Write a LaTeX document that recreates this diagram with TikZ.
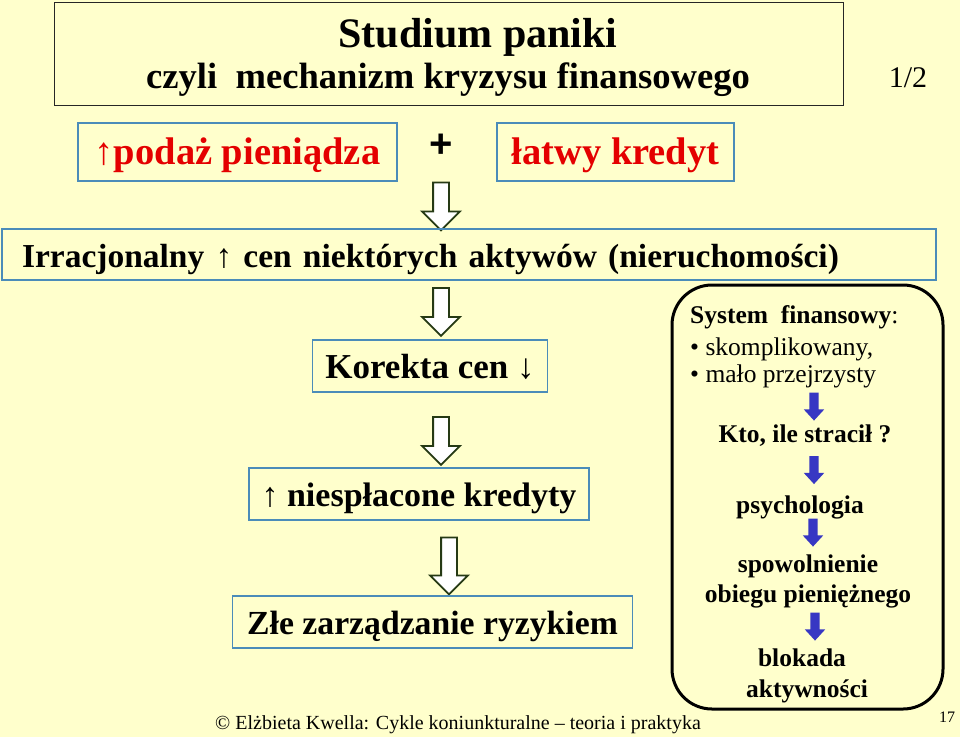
\documentclass[tikz,border=0pt]{standalone}
\usepackage{fontspec}
\setmainfont{Liberation Serif}
\newfontfamily\plusfont{Liberation Sans}
\usetikzlibrary{shapes.arrows}
\definecolor{bg}{RGB}{255,255,204}
\definecolor{boxline}{RGB}{75,140,185}
\definecolor{arrline}{RGB}{38,58,20}
\definecolor{bluearr}{RGB}{55,55,195}
\definecolor{redtxt}{RGB}{228,0,0}
\newcommand{\myfs}[1]{\fontsize{#1}{#1}\selectfont}
\begin{document}
\begin{tikzpicture}[x=1pt,y=-1pt,
  box/.style={draw=boxline, line width=1.1pt, inner sep=0pt, align=center,
    text height=25pt, text depth=0pt},
  hollow/.style={single arrow, draw=arrline, fill=white, line width=1.8pt,
    rotate=-90, minimum height=48pt, minimum width=36pt, inner sep=7pt,
    single arrow head extend=11pt, single arrow tip angle=90,
    single arrow head indent=0pt},
  bluearrow/.style={single arrow, fill=bluearr, draw=none,
    rotate=-90, minimum height=28pt, minimum width=20pt, inner sep=4.5pt,
    single arrow head extend=5.5pt, single arrow tip angle=85,
    single arrow head indent=0pt},
  rtxt/.style={font=\myfs{25.5}\bfseries, anchor=base, inner sep=0pt}]
\fill[bg] (0,0) rectangle (960,737);
\useasboundingbox (0,0) rectangle (960,737);

% title
\node[draw=black!85, line width=1pt, minimum width=789pt, minimum height=103pt, inner sep=0pt] (title) at (448.5,53.5) {};
\node[anchor=base, inner sep=0pt, font=\myfs{42}\bfseries] (t1) at (478,47) {Studium paniki};
\node[anchor=base, inner sep=0pt, font=\myfs{36.6}\bfseries] (t2) at (448,88) {czyli\ \ mechanizm kryzysu finansowego};
\node[anchor=base, inner sep=0pt, font=\myfs{30}] (pg) at (908,87) {1/2};

% top row
\node[box, minimum width=319pt, minimum height=58pt, text=redtxt, font=\myfs{38.5}\bfseries] (podaz) at (237.5,152) {↑podaż pieniądza};
\node[inner sep=0pt, font=\plusfont\myfs{40}\bfseries] (plus) at (441,146) {+};
\node[box, minimum width=237pt, minimum height=58pt, text=redtxt, font=\myfs{38.5}\bfseries] (latwy) at (615.5,152) {łatwy kredyt};

\node[hollow] (a1) at (441,202.5) {};

\node[box, minimum height=51pt, text width=894pt, inner xsep=20pt, align=left, font=\myfs{33.5}\bfseries] (irr) at (469,254.5) {Irracjonalny ↑ cen niektórych aktywów (nieruchomości)};

\node[hollow] (a2) at (441,308) {};

\node[box, minimum width=235pt, minimum height=52pt, font=\myfs{35}\bfseries] (kor) at (430,366) {Korekta cen ↓};

\node[hollow] (a3) at (441,437) {};

\node[box, minimum width=340pt, minimum height=52pt, font=\myfs{34}\bfseries] (nie) at (419,494) {↑ niespłacone kredyty};

\node[hollow, minimum height=57pt] (a4) at (449,562) {};

\node[box, minimum width=400pt, minimum height=52pt, font=\myfs{33.7}\bfseries] (zle) at (432.5,622) {Złe zarządzanie ryzykiem};

% right rounded box
\node[draw=black, line width=3pt, rounded corners=40pt, minimum width=271pt, minimum height=424pt, inner sep=0pt] (sys) at (807.5,497) {};
\node[anchor=base west, inner sep=0pt, font=\myfs{25.5}] (sf) at (690,323) {\textbf{System\ \ finansowy}:};
\node[anchor=base west, inner sep=0pt, font=\myfs{25.5}] (sk) at (690,355) {• skomplikowany,};
\node[anchor=base west, inner sep=0pt, font=\myfs{25.5}] (mp) at (690,382) {• mało przejrzysty};
\node[bluearrow] (b1) at (814,404) {};
\node[rtxt] (kto) at (805,442) {Kto, ile stracił ?};
\node[bluearrow] (b2) at (814,467.5) {};
\node[rtxt] (psy) at (800,513) {psychologia};
\node[bluearrow] (b3) at (813,530) {};
\node[rtxt] (spo) at (808,572) {spowolnienie};
\node[rtxt] (obi) at (808,602) {obiegu pieniężnego};
\node[bluearrow] (b4) at (815,624) {};
\node[rtxt] (blo) at (802,666) {blokada};
\node[rtxt] (akt) at (807,697) {aktywności};

% footer
\node[anchor=base, inner sep=0pt, font=\myfs{20}] (foot) at (458,729) {© Elżbieta Kwella: Cykle koniunkturalne – teoria i praktyka};
\node[anchor=base, inner sep=0pt, font=\myfs{16}] (num) at (947,722) {17};
\end{tikzpicture}
\end{document}
